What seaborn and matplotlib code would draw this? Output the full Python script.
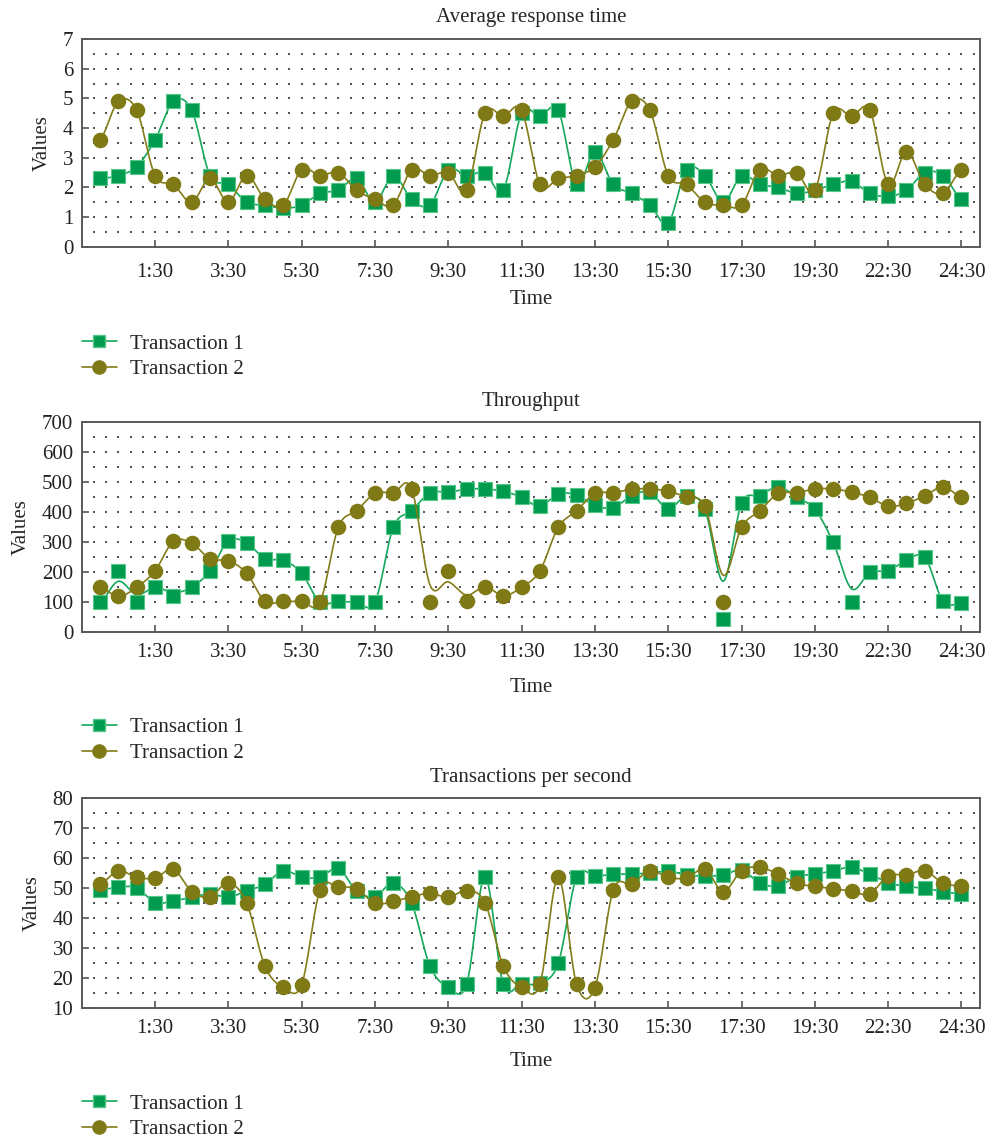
import numpy as np
import pandas as pd
import matplotlib
matplotlib.use("Agg")
import matplotlib.pyplot as plt
from matplotlib.lines import Line2D
import seaborn as sns

# x axis: 48 half-hour slots, labelled every 4th slot
tick_pos = [3, 7, 11, 15, 19, 23, 27, 31, 35, 39, 43, 47]
tick_labels = ["1:30", "3:30", "5:30", "7:30", "9:30", "11:30", "13:30",
               "15:30", "17:30", "19:30", "22:30", "24:30"]

# Average response time
resp_t1 = [2.3, 2.4, 2.7, 3.6, 4.9, 4.6, 2.4, 2.1, 1.5, 1.4, 1.3, 1.4, 1.8, 1.9,
           2.3, 1.5, 2.4, 1.6, 1.4, 2.6, 2.4, 2.5, 1.9, 4.5, 4.4, 4.6, 2.1, 3.2, 2.1, 1.8, 1.4,
           0.8, 2.6, 2.4, 1.5, 2.4, 2.1, 2.0, 1.8, 1.9, 2.1, 2.2, 1.8, 1.7, 1.9, 2.5, 2.4, 1.6]
resp_t2 = [3.6, 4.9, 4.6, 2.4, 2.1, 1.5, 2.3, 1.5, 2.4, 1.6, 1.4, 2.6, 2.4, 2.5,
           1.9, 1.6, 1.4, 2.6, 2.4, 2.5, 1.9, 4.5, 4.4, 4.6, 2.1, 2.3, 2.4, 2.7, 3.6, 4.9, 4.6,
           2.4, 2.1, 1.5, 1.4, 1.4, 2.6, 2.4, 2.5, 1.9, 4.5, 4.4, 4.6, 2.1, 3.2, 2.1, 1.8, 2.6]

# Throughput (markers), and the values the drawn curves run through
thr_t1 = [100, 205, 100, 150, 120, 150, 205, 305, 298, 245, 240, 197, 100, 103,
          100, 100, 350, 405, 465, 467, 477, 478, 470, 450, 420, 462, 457, 423, 415, 455, 467,
          410, 455, 410, 45, 430, 455, 485, 450, 410, 300, 100, 200, 205, 240, 250, 103, 97]
thr_t2 = [152, 120, 150, 205, 303, 297, 245, 238, 197, 103, 103, 103, 100, 350,
          405, 463, 465, 478, 100, 205, 103, 152, 122, 150, 205, 350, 405, 463, 465, 477, 478,
          470, 450, 420, 100, 350, 405, 463, 465, 478, 478, 467, 450, 420, 430, 455, 485, 450]
thr_t1_curve = [100, 170, 125, 150, 132, 150, 205, 305, 298, 245, 240, 197, 100, 103,
                100, 100, 350, 405, 465, 467, 477, 478, 470, 450, 420, 462, 457, 423, 415, 455, 467,
                410, 455, 410, 170, 430, 455, 485, 450, 410, 300, 145, 200, 205, 240, 250, 103, 97]
thr_t2_curve = [152, 120, 150, 205, 303, 297, 245, 238, 197, 103, 103, 103, 100, 350,
                405, 463, 465, 478, 158, 168, 124, 152, 122, 150, 205, 350, 405, 463, 465, 477, 478,
                470, 450, 420, 190, 350, 405, 463, 465, 478, 478, 467, 450, 420, 430, 455, 485, 450]

# Transactions per second
tps_t1 = [49.5, 50.3, 50.2, 45.2, 45.8, 47.0, 48.2, 47.0, 49.2, 51.3, 55.9, 53.7, 53.7, 56.6,
          49.1, 47.2, 51.8, 45.0, 24.1, 17.0, 18.0, 53.8, 18.0, 18.2, 18.4, 25.0, 53.7, 54.1, 54.6, 54.8, 55.0,
          55.8, 54.4, 54.1, 54.4, 56.1, 51.7, 50.8, 53.9, 54.7, 55.8, 57.0, 54.7, 51.9, 50.6, 50.0, 48.9, 48.1]
tps_t2 = [51.4, 55.8, 53.7, 53.4, 56.4, 48.9, 47.1, 51.8, 45.1, 24.0, 17.0, 17.9, 49.4, 50.3,
          49.8, 45.0, 45.6, 47.2, 48.3, 47.0, 49.2, 45.2, 24.1, 17.0, 18.0, 53.7, 18.0, 16.9, 49.4, 51.4, 55.8,
          53.7, 53.4, 56.4, 48.9, 55.9, 57.0, 54.7, 51.7, 50.6, 49.9, 49.0, 48.1, 54.2, 54.4, 55.9, 51.7, 50.8]

GREEN = "#009B4E"
GREEN_LINE = "#14A85A"
OLIVE = "#7F7A16"
OLIVE_LINE = "#847C18"

sns.set_theme(style="white")
plt.rcParams["font.family"] = ["Liberation Serif", "DejaVu Serif"]
plt.rcParams["font.size"] = 15


def smooth_curve(vals, n=24):
    # Catmull-Rom style smoothing of the drawn line (like a "smoothed line" chart)
    y = np.asarray(vals, float)
    p = np.concatenate([[y[0]], y, [y[-1]]])
    t = np.linspace(0, 1, n, endpoint=False)
    h00 = 2 * t**3 - 3 * t**2 + 1
    h10 = t**3 - 2 * t**2 + t
    h01 = -2 * t**3 + 3 * t**2
    h11 = t**3 - t**2
    xs, ys = [], []
    for i in range(len(y) - 1):
        m0 = (p[i + 2] - p[i]) / 2
        m1 = (p[i + 3] - p[i + 1]) / 2
        xs.append(i + t)
        ys.append(h00 * y[i] + h10 * m0 + h01 * y[i + 1] + h11 * m1)
    xs.append([len(y) - 1])
    ys.append([y[-1]])
    return pd.DataFrame({"x": np.concatenate(xs), "y": np.concatenate(ys)})


def panel(ax, title, t1, t2, c1, c2, ymin, ymax, ystep, leg_y, xpad, xlabpad):
    idx = np.arange(len(t1))
    # background dot grid
    gx, gy = np.meshgrid(np.arange(-1, 48.01, 2 / 3),
                         np.arange(ymin + ystep / 2, ymax - ystep / 4, ystep / 2))
    ax.scatter(gx.ravel(), gy.ravel(), s=0.6, c="#555555", marker="s", linewidths=0, zorder=1)

    sns.lineplot(data=smooth_curve(c1), x="x", y="y", ax=ax, color=GREEN_LINE,
                 lw=1.2, sort=False, estimator=None, zorder=2)
    sns.scatterplot(x=idx, y=t1, ax=ax, marker="s", s=95, color=GREEN,
                    edgecolor="#55C787", linewidth=0.8, zorder=3)
    sns.lineplot(data=smooth_curve(c2), x="x", y="y", ax=ax, color=OLIVE_LINE,
                 lw=1.2, sort=False, estimator=None, zorder=4)
    sns.scatterplot(x=idx, y=t2, ax=ax, marker="o", s=125, color=OLIVE,
                    linewidth=0, zorder=5)

    ax.set_xlim(-1, 48)
    ax.set_ylim(ymin, ymax)
    ax.set_xticks(tick_pos)
    ax.set_xticklabels(tick_labels)
    ax.set_yticks(np.arange(ymin, ymax + ystep / 2, ystep))
    ax.set_title(title, fontsize=15, pad=12)
    ax.set_xlabel("Time", fontsize=15, labelpad=xlabpad)
    ax.set_ylabel("Values", fontsize=15, labelpad=8)
    ax.tick_params(axis="both", direction="in", length=5, width=1.2, color="#555555",
                   labelsize=15, bottom=True, left=True)
    ax.tick_params(axis="x", pad=xpad, labelcolor="#222222")
    ax.tick_params(axis="y", pad=6, labelcolor="#222222")
    for sp in ax.spines.values():
        sp.set_color("#5a5a5a")
        sp.set_linewidth(1.4)
    ax.grid(False)

    handles = [
        Line2D([0], [0], color=GREEN_LINE, lw=1.2, marker="s", markersize=8.5,
               markerfacecolor=GREEN, markeredgecolor="#55C787", label="Transaction 1"),
        Line2D([0], [0], color=OLIVE_LINE, lw=1.2, marker="o", markersize=9.5,
               markerfacecolor=OLIVE, markeredgecolor=OLIVE, label="Transaction 2"),
    ]
    ax.legend(handles=handles, loc="upper left", bbox_to_anchor=(0, leg_y),
              frameon=False, borderpad=0, borderaxespad=0, handlelength=1.7,
              handletextpad=0.6, labelspacing=0.3, fontsize=15)


fig = plt.figure(figsize=(9.88, 11.38), dpi=100)
ax1 = fig.add_axes([0.0827, 0.7832, 0.909, 0.1825])
ax2 = fig.add_axes([0.0827, 0.4444, 0.909, 0.1845])
ax3 = fig.add_axes([0.0827, 0.1140, 0.909, 0.1845])

panel(ax1, "Average response time", resp_t1, resp_t2, resp_t1, resp_t2,
      0, 7, 1, -0.42, 11.5, 6)
panel(ax2, "Throughput", thr_t1, thr_t2, thr_t1_curve, thr_t2_curve,
      0, 700, 100, -0.407, 8, 11)
panel(ax3, "Transactions per second", tps_t1, tps_t2, tps_t1, tps_t2,
      10, 80, 10, -0.408, 8, 9.5)

fig.savefig("out.png", dpi=100, facecolor="white")
